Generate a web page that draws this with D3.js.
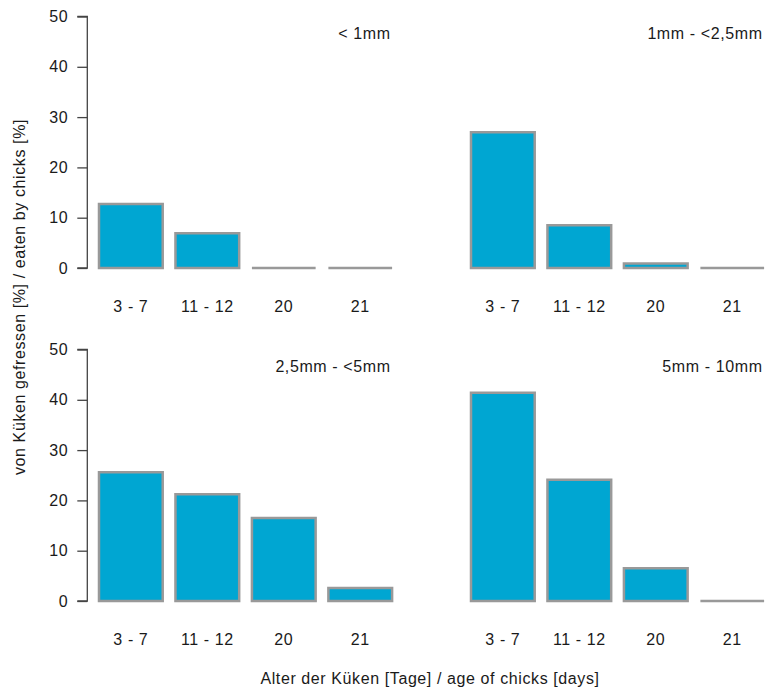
<!DOCTYPE html>
<html>
<head>
<meta charset="utf-8">
<script src="https://cdn.jsdelivr.net/npm/d3@7"></script>
<style>
  html, body { margin: 0; padding: 0; background: #fff; }
  svg { display: block; font-family: "Liberation Sans", Arial, sans-serif; }
  svg text { letter-spacing: 0.6px; }
</style>
</head>
<body>
<svg id="chart" width="778" height="691"></svg>
<script>
// Age groups of the chicks (x categories)
const ageGroups = ["3 - 7", "11 - 12", "20", "21"];
// Prey size classes, one per panel
const sizeClasses = ["< 1mm", "1mm - <2,5mm", "2,5mm - <5mm", "5mm - 10mm"];
// Share eaten by chicks [%] per size class
const valuesLt1 = [12.7, 6.9, 0, 0];
const values1to25 = [27.0, 8.5, 0.9, 0];
const values25to5 = [25.6, 21.2, 16.5, 2.6];
const values5to10 = [41.4, 24.1, 6.5, 0];
const yTicks = [0, 10, 20, 30, 40, 50];

const series = [valuesLt1, values1to25, values25to5, values5to10];

const svg = d3.select("#chart");
const fillColor = "#00a6d2";
const edgeColor = "#999999";
const textColor = "#1a1a1a";
const fontSize = 16;

// panel frames: left edge of plot region and baseline of y = 0
const panelLeft = [87.3, 459.3, 87.3, 459.3];
const panelWidth = 316.5;
const panelBase = [268, 268, 601, 601];
const panelTop = [16.5, 16.5, 349.5, 349.5];
const showYAxis = [true, false, true, false];

series.forEach((vals, p) => {
  const g = svg.append("g");
  const x = d3.scaleBand()
    .domain(ageGroups)
    .range([panelLeft[p], panelLeft[p] + panelWidth])
    .paddingInner(1 / 6)
    .paddingOuter(0.153);
  const y = d3.scaleLinear().domain([0, 50]).range([panelBase[p], panelTop[p]]);

  // bars as closed paths so that zero values still show as a flat edge
  g.selectAll("path.bar")
    .data(vals)
    .join("path")
    .attr("class", "bar")
    .attr("d", (d, i) => {
      const x0 = x(ageGroups[i]), x1 = x0 + x.bandwidth();
      const y0 = y(0), y1 = y(d);
      return `M${x0},${y0}H${x1}V${y1}H${x0}Z`;
    })
    .attr("fill", fillColor)
    .attr("stroke", edgeColor)
    .attr("stroke-width", 2.5)
    .attr("stroke-linejoin", "miter");

  // category labels under the bars
  g.selectAll("text.cat")
    .data(ageGroups)
    .join("text")
    .attr("class", "cat")
    .attr("x", d => x(d) + x.bandwidth() / 2)
    .attr("y", panelBase[p] + 43.5)
    .attr("text-anchor", "middle")
    .attr("font-size", fontSize)
    .attr("fill", textColor)
    .text(d => d);

  // size class label in the upper right corner
  g.append("text")
    .attr("x", x(ageGroups[3]) + x.bandwidth() - 1.5)
    .attr("y", panelTop[p] + 22.5)
    .attr("text-anchor", "end")
    .attr("font-size", fontSize)
    .attr("fill", textColor)
    .text(sizeClasses[p]);

  if (showYAxis[p]) {
    const axis = d3.axisLeft(y).tickValues(yTicks).tickSize(10).tickPadding(9);
    const ag = g.append("g")
      .attr("transform", `translate(${panelLeft[p]},0)`)
      .call(axis);
    ag.select(".domain")
      .attr("d", `M-10,${y(0)}H0V${y(50)}H-10`)
      .attr("stroke", "#444").attr("stroke-width", 1.3);
    ag.selectAll(".tick line").attr("stroke", "#444").attr("stroke-width", 1.3);
    ag.selectAll(".tick text")
      .attr("font-size", fontSize)
      .attr("font-family", "Liberation Sans, Arial, sans-serif")
      .attr("fill", textColor);
  }
});

// shared axis titles
svg.append("text")
  .attr("x", 430)
  .attr("y", 683.5)
  .attr("text-anchor", "middle")
  .attr("font-size", fontSize)
  .attr("fill", textColor)
  .text("Alter der Küken [Tage] / age of chicks [days]");

svg.append("text")
  .attr("transform", "translate(25,297) rotate(-90)")
  .attr("text-anchor", "middle")
  .attr("font-size", fontSize)
  .attr("fill", textColor)
  .text("von Küken gefressen [%] / eaten by chicks [%]");
</script>
</body>
</html>
